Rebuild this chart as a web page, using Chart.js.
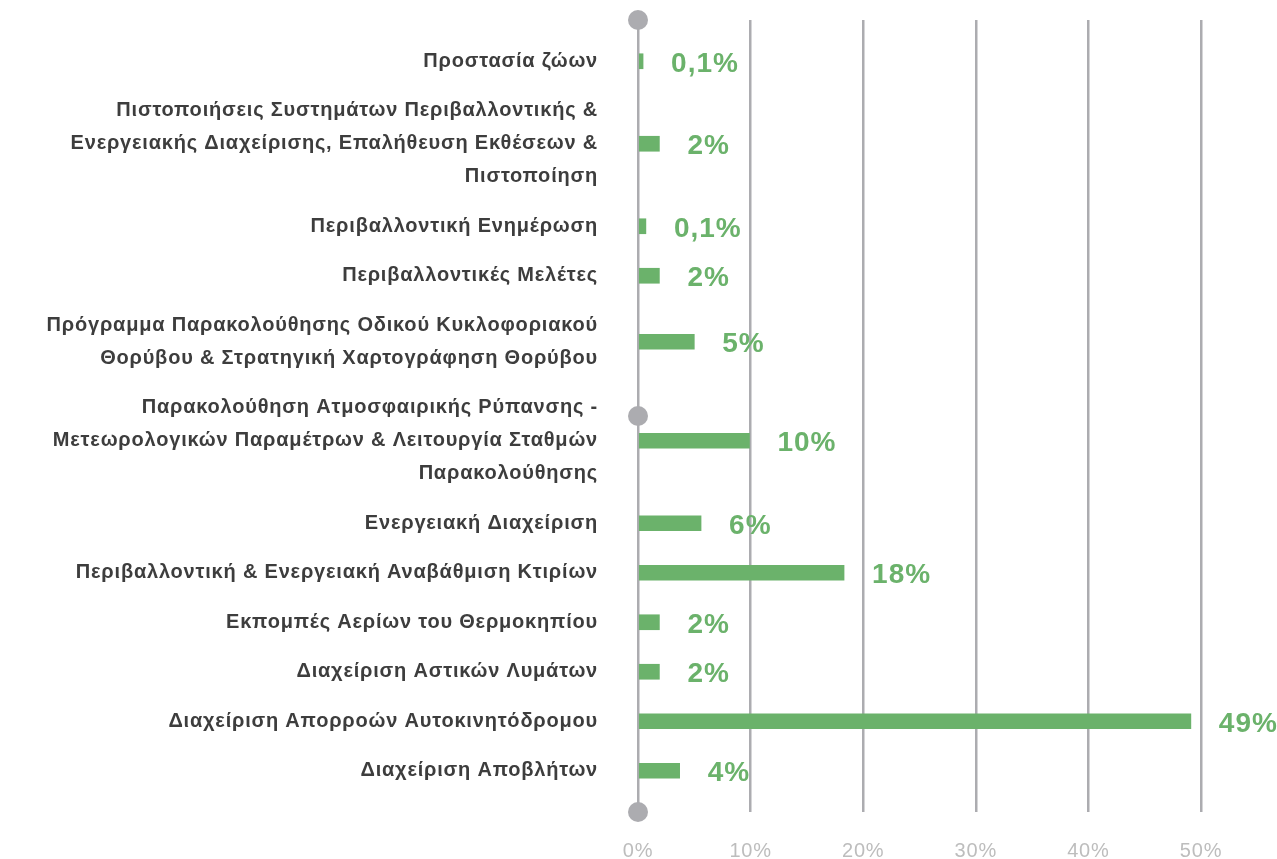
<!DOCTYPE html>
<html>
<head>
<meta charset="utf-8">
<script src="https://cdn.jsdelivr.net/npm/chart.js@4"></script>
<style>
  html, body { margin: 0; padding: 0; background: #fff; }
  #wrap { width: 1277px; height: 859px; }
</style>
</head>
<body>
<div id="wrap"><canvas id="chart"></canvas></div>
<script>
// categories, one entry per line of the label
const categories = [
  ['Προστασία ζώων'],
  ['Πιστοποιήσεις Συστημάτων Περιβαλλοντικής &', 'Ενεργειακής Διαχείρισης, Επαλήθευση Εκθέσεων &', 'Πιστοποίηση'],
  ['Περιβαλλοντική Ενημέρωση'],
  ['Περιβαλλοντικές Μελέτες'],
  ['Πρόγραμμα Παρακολούθησης Οδικού Κυκλοφοριακού', 'Θορύβου & Στρατηγική Χαρτογράφηση Θορύβου'],
  ['Παρακολούθηση Ατμοσφαιρικής Ρύπανσης -', 'Μετεωρολογικών Παραμέτρων & Λειτουργία Σταθμών', 'Παρακολούθησης'],
  ['Ενεργειακή Διαχείριση'],
  ['Περιβαλλοντική & Ενεργειακή Αναβάθμιση Κτιρίων'],
  ['Εκπομπές Αερίων του Θερμοκηπίου'],
  ['Διαχείριση Αστικών Λυμάτων'],
  ['Διαχείριση Απορροών Αυτοκινητόδρομου'],
  ['Διαχείριση Αποβλήτων']
];
// bar lengths in % as drawn
const values = [0.45, 1.9, 0.7, 1.9, 5, 9.9, 5.6, 18.3, 1.9, 1.9, 49.1, 3.7];
// printed value labels
const valueLabels = ['0,1%', '2%', '0,1%', '2%', '5%', '10%', '6%', '18%', '2%', '2%', '49%', '4%'];
const xTicks = [0, 10, 20, 30, 40, 50];

// each row takes (lines + 0.5) units, so tall labels get more room
let acc = 0;
const rowCenters = categories.map(lines => {
  const h = lines.length + 0.5;
  const c = acc + h / 2;
  acc += h;
  return c;
});
const total = acc;

const green = '#6bb26b';
const grey = '#acacb0';

// the reference text is slightly tracked
const tracking = {
  id: 'tracking',
  beforeDraw(chart) { chart.ctx.letterSpacing = '0.8px'; }
};

const valueLabelPlugin = {
  id: 'valueLabels',
  afterDatasetsDraw(chart) {
    const ctx = chart.ctx;
    const meta = chart.getDatasetMeta(0);
    ctx.save();
    ctx.fillStyle = green;
    ctx.font = 'bold 28px "Liberation Sans", Arial, sans-serif';
    ctx.letterSpacing = '1px';
    ctx.textAlign = 'left';
    ctx.textBaseline = 'middle';
    meta.data.forEach((bar, i) => {
      ctx.fillText(valueLabels[i], bar.x + 28, bar.y + 3);
    });
    ctx.restore();
  }
};

const axisDots = {
  id: 'axisDots',
  afterDraw(chart) {
    const { ctx, chartArea } = chart;
    const x = chart.scales.x.getPixelForValue(0);
    const ys = [chartArea.top, (chartArea.top + chartArea.bottom) / 2, chartArea.bottom];
    ctx.save();
    ctx.fillStyle = grey;
    ys.forEach(y => {
      ctx.beginPath();
      ctx.arc(x, y, 10, 0, Math.PI * 2);
      ctx.fill();
    });
    ctx.restore();
  }
};

new Chart(document.getElementById('chart').getContext('2d'), {
  type: 'bar',
  data: {
    datasets: [{
      data: rowCenters.map((c, i) => ({ x: values[i], y: c })),
      backgroundColor: green,
      barThickness: 15,
      borderWidth: 0
    }]
  },
  plugins: [tracking, valueLabelPlugin, axisDots],
  options: {
    indexAxis: 'y',
    responsive: true,
    maintainAspectRatio: false,
    animation: false,
    layout: { padding: { top: 20, right: 76, left: 0, bottom: 0 } },
    plugins: {
      legend: { display: false },
      tooltip: { enabled: false }
    },
    scales: {
      x: {
        type: 'linear',
        position: 'bottom',
        min: 0,
        max: 50,
        afterBuildTicks: scale => { scale.ticks = xTicks.map(v => ({ value: v })); },
        afterFit: scale => {
          scale.height = 47;
          scale.paddingLeft = 0;
          scale.paddingRight = 0;
        },
        grid: { color: grey, lineWidth: 2.5, drawTicks: false },
        border: { display: false },
        ticks: {
          padding: 27,
          color: '#bdbdbd',
          font: { family: '"Liberation Sans", Arial, sans-serif', size: 20 },
          callback: v => v + '%'
        }
      },
      y: {
        type: 'linear',
        reverse: true,
        offset: false,
        min: -0.5,
        max: total + 0.5,
        afterBuildTicks: scale => { scale.ticks = rowCenters.map(v => ({ value: v })); },
        afterFit: scale => {
          scale.width = 638;
          scale.paddingTop = 0;
          scale.paddingBottom = 0;
        },
        grid: { display: false, drawTicks: false },
        border: { display: false },
        ticks: {
          autoSkip: false,
          padding: 40,
          color: '#3d3d3d',
          font: { family: '"Liberation Sans", Arial, sans-serif', size: 20, weight: 'bold', lineHeight: '33px' },
          callback: (v, i) => categories[i]
        }
      }
    }
  }
});
</script>
</body>
</html>
